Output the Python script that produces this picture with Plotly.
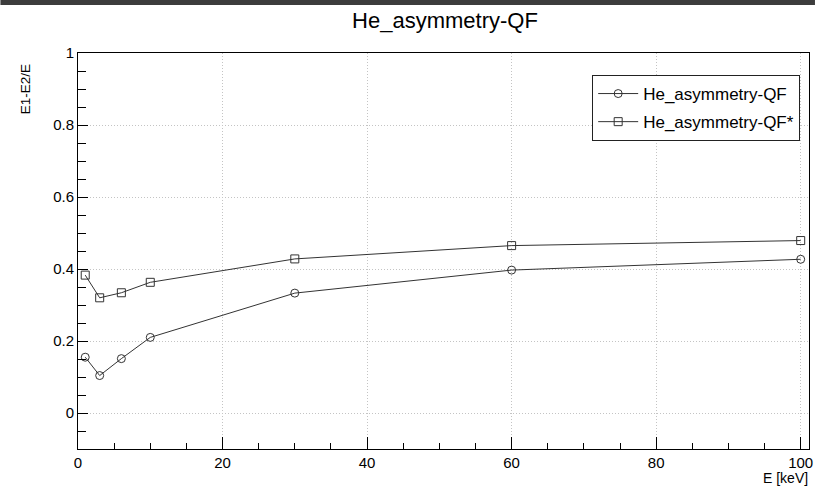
import plotly.graph_objects as go

energy = [1, 3, 6, 10, 30, 60, 100]
qf = [0.155, 0.104, 0.151, 0.210, 0.333, 0.397, 0.427]
qf_star = [0.383, 0.320, 0.334, 0.363, 0.428, 0.465, 0.479]
series_names = ["He_asymmetry-QF", "He_asymmetry-QF*"]

W, H = 819, 488
L, R, T, B = 78, 6, 53, 39
ph = H - T - B
pw = W - L - R

line_col = "#333333"
fig = go.Figure()
fig.add_trace(go.Scatter(x=energy, y=qf, mode="lines+markers", name=series_names[0],
                         legendgroup="a",
                         line=dict(color=line_col, width=1),
                         marker=dict(symbol="circle-open", size=8, color=line_col, line=dict(width=1))))
fig.add_trace(go.Scatter(x=energy, y=qf_star, mode="lines+markers", name=series_names[1],
                         legendgroup="b",
                         line=dict(color=line_col, width=1),
                         marker=dict(symbol="square-open", size=8, color=line_col, line=dict(width=1))))

font = "Liberation Sans, Arial, Helvetica, sans-serif"
grid = dict(showgrid=True, gridcolor="#c4c4c4", griddash="1px,2px", gridwidth=1)
fig.update_layout(
    width=W, height=H,
    margin=dict(l=L, r=R, t=T, b=B),
    paper_bgcolor="white", plot_bgcolor="white",
    font=dict(family=font, color="black", size=15),
    title=dict(text="He_asymmetry-QF", x=445 / W, xanchor="center", xref="container",
               y=1 - 20 / H, yanchor="middle", yref="container", font=dict(size=22)),
    showlegend=True,
    legend=dict(x=(595 - L) / pw, y=1 - (75 - T) / ph, xanchor="left", yanchor="top",
                bgcolor="white", bordercolor="#222222", borderwidth=1,
                font=dict(size=17), itemwidth=40, tracegroupgap=3),
    xaxis=dict(range=[0, 101.15], showline=True, linecolor="black", linewidth=1, mirror=True,
               zeroline=False, tick0=0, dtick=20, ticks="inside", ticklen=12, tickcolor="black",
               tickfont=dict(size=15),
               minor=dict(dtick=5, ticks="inside", ticklen=6, tickcolor="black", showgrid=False),
               **grid),
    yaxis=dict(range=[-0.1, 1.0], showline=True, linecolor="black", linewidth=1, mirror=True,
               zeroline=False, tick0=0, dtick=0.2, ticks="inside", ticklen=10, tickcolor="black",
               tickfont=dict(size=15), tickformat="~g",
               minor=dict(dtick=0.05, ticks="inside", ticklen=8, tickcolor="black", showgrid=False),
               **grid),
)

fig.add_shape(type="rect", xref="paper", yref="paper", x0=-L / pw, x1=1 + R / pw,
              y0=1 + (T - 5) / ph, y1=1 + T / ph, fillcolor="#3c3c3c", line=dict(width=0), layer="above")

fig.add_annotation(text="E [keV]", xref="paper", yref="paper", x=1 + 1 / pw, y=-(477.5 - T - ph) / ph,
                   xanchor="right", yanchor="middle", showarrow=False, font=dict(size=14))
fig.add_annotation(text="E1-E2/E", xref="paper", yref="paper", x=(25 - L) / pw, y=1 - (62 - T) / ph,
                   xanchor="center", yanchor="top", textangle=-90, showarrow=False, font=dict(size=13.5))

fig.write_html("out.html", config={"displayModeBar": False},
               post_script="document.body.style.margin='0';document.body.style.overflow='hidden';")
